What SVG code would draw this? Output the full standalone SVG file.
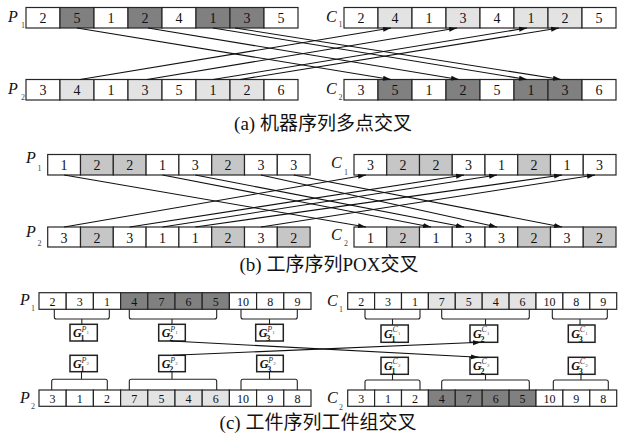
<svg xmlns="http://www.w3.org/2000/svg" width="622" height="439" viewBox="0 0 622 439">
<style>
.c{fill:#fff;stroke:#262626;stroke-width:1.2}
.d{fill:#808080}.l{fill:#e3e3e3}.m{fill:#c6c6c6}
.n{font-family:"Liberation Serif",serif;font-size:14px;text-anchor:middle;fill:#111}
.s{font-size:12px}
.lab{font-family:"Liberation Serif",serif;font-style:italic;font-size:16px;fill:#111}
.sub{font-family:"Liberation Serif",serif;font-size:8px;fill:#444}
.cap{font-family:"Liberation Serif","Noto Sans CJK SC",serif;font-size:19px;text-anchor:middle;fill:#111}
.ar{stroke:#111;stroke-width:1.1;fill:none;marker-end:url(#ah)}
.br{stroke:#222;stroke-width:1.1;fill:none}
.bx{fill:#fff;stroke:#222;stroke-width:1.5}
.gl{font-family:"Liberation Serif",serif;font-weight:bold;font-style:italic;font-size:12px;fill:#111}
.gs{font-family:"Liberation Serif",serif;font-weight:bold;font-size:8px;fill:#111}
.gp{font-family:"Liberation Serif",serif;font-style:italic;font-size:8px;fill:#333}
.gq{font-family:"Liberation Serif",serif;font-size:5px;fill:#555}
</style>
<defs>
<marker id="ah" markerWidth="8" markerHeight="6" refX="8" refY="3" orient="auto" markerUnits="userSpaceOnUse"><path d="M0,0.5 L8,3 L0,5.5 z" fill="#111"/></marker>
</defs>

<!-- (a) -->
<g id="a-P1">
<text class="lab" x="8" y="22">P</text><text class="sub" x="21" y="28">1</text>
<rect class="c" x="26" y="7.5" width="34" height="20.5"/><rect class="c d" x="60" y="7.5" width="34" height="20.5"/><rect class="c" x="94" y="7.5" width="34" height="20.5"/><rect class="c d" x="128" y="7.5" width="34" height="20.5"/><rect class="c" x="162" y="7.5" width="34" height="20.5"/><rect class="c d" x="196" y="7.5" width="34" height="20.5"/><rect class="c d" x="230" y="7.5" width="34" height="20.5"/><rect class="c" x="264" y="7.5" width="34" height="20.5"/>
<text class="n" x="43" y="23">2</text><text class="n" x="77" y="23">5</text><text class="n" x="111" y="23">1</text><text class="n" x="145" y="23">2</text><text class="n" x="179" y="23">4</text><text class="n" x="213" y="23">1</text><text class="n" x="247" y="23">3</text><text class="n" x="281" y="23">5</text>
</g>
<g id="a-P2">
<text class="lab" x="8" y="94">P</text><text class="sub" x="21" y="100">2</text>
<rect class="c" x="26" y="79.5" width="34" height="20.5"/><rect class="c l" x="60" y="79.5" width="34" height="20.5"/><rect class="c" x="94" y="79.5" width="34" height="20.5"/><rect class="c l" x="128" y="79.5" width="34" height="20.5"/><rect class="c" x="162" y="79.5" width="34" height="20.5"/><rect class="c l" x="196" y="79.5" width="34" height="20.5"/><rect class="c l" x="230" y="79.5" width="34" height="20.5"/><rect class="c" x="264" y="79.5" width="34" height="20.5"/>
<text class="n" x="43" y="95">3</text><text class="n" x="77" y="95">4</text><text class="n" x="111" y="95">1</text><text class="n" x="145" y="95">3</text><text class="n" x="179" y="95">5</text><text class="n" x="213" y="95">1</text><text class="n" x="247" y="95">2</text><text class="n" x="281" y="95">6</text>
</g>
<g id="a-C1">
<text class="lab" x="326" y="22">C</text><text class="sub" x="338.5" y="27">1</text>
<rect class="c" x="344" y="7.5" width="34" height="20.5"/><rect class="c l" x="378" y="7.5" width="34" height="20.5"/><rect class="c" x="412" y="7.5" width="34" height="20.5"/><rect class="c l" x="446" y="7.5" width="34" height="20.5"/><rect class="c" x="480" y="7.5" width="34" height="20.5"/><rect class="c l" x="514" y="7.5" width="34" height="20.5"/><rect class="c l" x="548" y="7.5" width="34" height="20.5"/><rect class="c" x="582" y="7.5" width="34" height="20.5"/>
<text class="n" x="361" y="23">2</text><text class="n" x="395" y="23">4</text><text class="n" x="429" y="23">1</text><text class="n" x="463" y="23">3</text><text class="n" x="497" y="23">4</text><text class="n" x="531" y="23">1</text><text class="n" x="565" y="23">2</text><text class="n" x="599" y="23">5</text>
</g>
<g id="a-C2">
<text class="lab" x="326" y="94">C</text><text class="sub" x="338.5" y="100">2</text>
<rect class="c" x="344" y="79.5" width="34" height="20.5"/><rect class="c d" x="378" y="79.5" width="34" height="20.5"/><rect class="c" x="412" y="79.5" width="34" height="20.5"/><rect class="c d" x="446" y="79.5" width="34" height="20.5"/><rect class="c" x="480" y="79.5" width="34" height="20.5"/><rect class="c d" x="514" y="79.5" width="34" height="20.5"/><rect class="c d" x="548" y="79.5" width="34" height="20.5"/><rect class="c" x="582" y="79.5" width="34" height="20.5"/>
<text class="n" x="361" y="95">3</text><text class="n" x="395" y="95">5</text><text class="n" x="429" y="95">1</text><text class="n" x="463" y="95">2</text><text class="n" x="497" y="95">5</text><text class="n" x="531" y="95">1</text><text class="n" x="565" y="95">3</text><text class="n" x="599" y="95">6</text>
</g>
<g id="a-links">
<line class="ar" x1="77" y1="28" x2="391" y2="79.5"/><line class="ar" x1="148" y1="28" x2="459" y2="79.5"/><line class="ar" x1="213" y1="28" x2="527" y2="79.5"/><line class="ar" x1="235" y1="28" x2="561" y2="79.5"/>
<line class="ar" x1="80" y1="79.5" x2="391" y2="28"/><line class="ar" x1="147" y1="79.5" x2="457" y2="28"/><line class="ar" x1="213" y1="79.5" x2="527" y2="28"/><line class="ar" x1="240" y1="79.5" x2="559" y2="28"/>
</g>
<text class="cap" x="323" y="130">(a) 机器序列多点交叉</text>

<!-- (b) -->
<g id="b-P1">
<text class="lab" x="26" y="163">P</text><text class="sub" x="37.5" y="171">1</text>
<rect class="c" x="47.7" y="154.5" width="32.8" height="20.5"/><rect class="c m" x="80.5" y="154.5" width="32.8" height="20.5"/><rect class="c m" x="113.3" y="154.5" width="32.8" height="20.5"/><rect class="c" x="146.1" y="154.5" width="32.8" height="20.5"/><rect class="c" x="178.9" y="154.5" width="32.8" height="20.5"/><rect class="c m" x="211.7" y="154.5" width="32.8" height="20.5"/><rect class="c" x="244.5" y="154.5" width="32.8" height="20.5"/><rect class="c" x="277.3" y="154.5" width="32.8" height="20.5"/>
<text class="n" x="64.1" y="170">1</text><text class="n" x="96.9" y="170">2</text><text class="n" x="129.7" y="170">2</text><text class="n" x="162.5" y="170">1</text><text class="n" x="195.3" y="170">3</text><text class="n" x="228.1" y="170">2</text><text class="n" x="260.9" y="170">3</text><text class="n" x="293.7" y="170">3</text>
</g>
<g id="b-P2">
<text class="lab" x="26" y="237">P</text><text class="sub" x="37.5" y="246">2</text>
<rect class="c" x="47.7" y="227" width="32.8" height="20"/><rect class="c m" x="80.5" y="227" width="32.8" height="20"/><rect class="c" x="113.3" y="227" width="32.8" height="20"/><rect class="c" x="146.1" y="227" width="32.8" height="20"/><rect class="c" x="178.9" y="227" width="32.8" height="20"/><rect class="c m" x="211.7" y="227" width="32.8" height="20"/><rect class="c" x="244.5" y="227" width="32.8" height="20"/><rect class="c m" x="277.3" y="227" width="32.8" height="20"/>
<text class="n" x="64.1" y="242.5">3</text><text class="n" x="96.9" y="242.5">2</text><text class="n" x="129.7" y="242.5">3</text><text class="n" x="162.5" y="242.5">1</text><text class="n" x="195.3" y="242.5">1</text><text class="n" x="228.1" y="242.5">2</text><text class="n" x="260.9" y="242.5">3</text><text class="n" x="293.7" y="242.5">2</text>
</g>
<g id="b-C1">
<text class="lab" x="331" y="168">C</text><text class="sub" x="344" y="175">1</text>
<rect class="c" x="354" y="154.5" width="32.75" height="20.5"/><rect class="c m" x="386.75" y="154.5" width="32.75" height="20.5"/><rect class="c m" x="419.5" y="154.5" width="32.75" height="20.5"/><rect class="c" x="452.25" y="154.5" width="32.75" height="20.5"/><rect class="c" x="485" y="154.5" width="32.75" height="20.5"/><rect class="c m" x="517.75" y="154.5" width="32.75" height="20.5"/><rect class="c" x="550.5" y="154.5" width="32.75" height="20.5"/><rect class="c" x="583.25" y="154.5" width="32.75" height="20.5"/>
<text class="n" x="370.4" y="170">3</text><text class="n" x="403.1" y="170">2</text><text class="n" x="435.9" y="170">2</text><text class="n" x="468.6" y="170">3</text><text class="n" x="501.4" y="170">1</text><text class="n" x="534.1" y="170">2</text><text class="n" x="566.9" y="170">1</text><text class="n" x="599.6" y="170">3</text>
</g>
<g id="b-C2">
<text class="lab" x="331" y="240">C</text><text class="sub" x="344" y="246">2</text>
<rect class="c" x="354" y="227" width="32.75" height="20"/><rect class="c m" x="386.75" y="227" width="32.75" height="20"/><rect class="c" x="419.5" y="227" width="32.75" height="20"/><rect class="c" x="452.25" y="227" width="32.75" height="20"/><rect class="c" x="485" y="227" width="32.75" height="20"/><rect class="c m" x="517.75" y="227" width="32.75" height="20"/><rect class="c" x="550.5" y="227" width="32.75" height="20"/><rect class="c m" x="583.25" y="227" width="32.75" height="20"/>
<text class="n" x="370.4" y="242.5">1</text><text class="n" x="403.1" y="242.5">2</text><text class="n" x="435.9" y="242.5">1</text><text class="n" x="468.6" y="242.5">3</text><text class="n" x="501.4" y="242.5">3</text><text class="n" x="534.1" y="242.5">2</text><text class="n" x="566.9" y="242.5">3</text><text class="n" x="599.6" y="242.5">2</text>
</g>
<g id="b-links">
<line class="ar" x1="64.1" y1="175" x2="366" y2="227"/><line class="ar" x1="162.5" y1="175" x2="431" y2="227"/><line class="ar" x1="195.3" y1="175" x2="464" y2="227"/><line class="ar" x1="260.9" y1="175" x2="497" y2="227"/><line class="ar" x1="293.7" y1="175" x2="562" y2="227"/>
<line class="ar" x1="64.1" y1="227" x2="366" y2="175"/><line class="ar" x1="129.7" y1="227" x2="464" y2="175"/><line class="ar" x1="162.5" y1="227" x2="497" y2="175"/><line class="ar" x1="195.3" y1="227" x2="562" y2="175"/><line class="ar" x1="260.9" y1="227" x2="595" y2="175"/>
</g>
<text class="cap" x="329" y="271">(b) 工序序列POX交叉</text>

<!-- (c) -->
<g id="c-P1">
<text class="lab" x="20" y="305">P</text><text class="sub" x="31" y="311">1</text>
<rect class="c" x="39" y="292.7" width="27.2" height="16.6"/><rect class="c" x="66.2" y="292.7" width="27.2" height="16.6"/><rect class="c" x="93.4" y="292.7" width="27.2" height="16.6"/><rect class="c d" x="120.6" y="292.7" width="27.2" height="16.6"/><rect class="c d" x="147.8" y="292.7" width="27.2" height="16.6"/><rect class="c d" x="175" y="292.7" width="27.2" height="16.6"/><rect class="c d" x="202.2" y="292.7" width="27.2" height="16.6"/><rect class="c" x="229.4" y="292.7" width="27.2" height="16.6"/><rect class="c" x="256.6" y="292.7" width="27.2" height="16.6"/><rect class="c" x="283.8" y="292.7" width="27.2" height="16.6"/>
<text class="n s" x="52.6" y="305.5">2</text><text class="n s" x="79.8" y="305.5">3</text><text class="n s" x="107" y="305.5">1</text><text class="n s" x="134.2" y="305.5">4</text><text class="n s" x="161.4" y="305.5">7</text><text class="n s" x="188.6" y="305.5">6</text><text class="n s" x="215.8" y="305.5">5</text><text class="n s" x="243" y="305.5">10</text><text class="n s" x="270.2" y="305.5">8</text><text class="n s" x="297.4" y="305.5">9</text>
<path class="br" d="M54.3,309.3 V317 q0,2 2,2 H107.3 q2,0 2,-2 V309.3 M81.8,319 V324.3"/>
<path class="br" d="M129.3,309.3 V317 q0,2 2,2 H214.7 q2,0 2,-2 V309.3 M172,319 V324.3"/>
<path class="br" d="M241,309.3 V317 q0,2 2,2 H295.3 q2,0 2,-2 V309.3 M269.5,319 V324.3"/>
</g>
<g id="c-GP1-1"><rect class="bx" x="70" y="324.3" width="27.3" height="16.7"/><text class="gl" x="73" y="337">G</text><text class="gs" x="80.5" y="340.5">1</text><text class="gp" x="81.5" y="331.5">P</text><text class="gq" x="86.5" y="334">1</text></g>
<g id="c-GP1-2"><rect class="bx d" x="158.7" y="324.3" width="26.6" height="16.7"/><text class="gl" x="161.7" y="337">G</text><text class="gs" x="169.2" y="340.5">2</text><text class="gp" x="170.2" y="331.5">P</text><text class="gq" x="175.2" y="334">1</text></g>
<g id="c-GP1-3"><rect class="bx" x="255.7" y="324.3" width="27.6" height="16.7"/><text class="gl" x="258.7" y="337">G</text><text class="gs" x="266.2" y="340.5">3</text><text class="gp" x="267.2" y="331.5">P</text><text class="gq" x="272.2" y="334">1</text></g>

<g id="c-P2">
<text class="lab" x="20" y="403">P</text><text class="sub" x="31" y="409">2</text>
<rect class="c" x="39" y="390" width="27.2" height="16.3"/><rect class="c" x="66.2" y="390" width="27.2" height="16.3"/><rect class="c" x="93.4" y="390" width="27.2" height="16.3"/><rect class="c l" x="120.6" y="390" width="27.2" height="16.3"/><rect class="c l" x="147.8" y="390" width="27.2" height="16.3"/><rect class="c l" x="175" y="390" width="27.2" height="16.3"/><rect class="c l" x="202.2" y="390" width="27.2" height="16.3"/><rect class="c" x="229.4" y="390" width="27.2" height="16.3"/><rect class="c" x="256.6" y="390" width="27.2" height="16.3"/><rect class="c" x="283.8" y="390" width="27.2" height="16.3"/>
<text class="n s" x="52.6" y="402.5">3</text><text class="n s" x="79.8" y="402.5">1</text><text class="n s" x="107" y="402.5">2</text><text class="n s" x="134.2" y="402.5">7</text><text class="n s" x="161.4" y="402.5">5</text><text class="n s" x="188.6" y="402.5">4</text><text class="n s" x="215.8" y="402.5">6</text><text class="n s" x="243" y="402.5">10</text><text class="n s" x="270.2" y="402.5">9</text><text class="n s" x="297.4" y="402.5">8</text>
<path class="br" d="M51.7,390 V381.3 q0,-2 2,-2 H105.3 q2,0 2,2 V390 M81.5,379.3 V371.7"/>
<path class="br" d="M129.3,390 V381.3 q0,-2 2,-2 H214.7 q2,0 2,2 V390 M172,379.3 V371.7"/>
<path class="br" d="M241,390 V381.3 q0,-2 2,-2 H295.3 q2,0 2,2 V390 M269.5,379.3 V371.7"/>
</g>
<g id="c-GP2-1"><rect class="bx" x="70" y="355.3" width="27.3" height="16.4"/><text class="gl" x="73" y="368">G</text><text class="gs" x="80.5" y="371.5">1</text><text class="gp" x="81.5" y="362.5">P</text><text class="gq" x="86.5" y="365">2</text></g>
<g id="c-GP2-2"><rect class="bx l" x="158.7" y="355.3" width="26.6" height="16.4"/><text class="gl" x="161.7" y="368">G</text><text class="gs" x="169.2" y="371.5">2</text><text class="gp" x="170.2" y="362.5">P</text><text class="gq" x="175.2" y="365">2</text></g>
<g id="c-GP2-3"><rect class="bx" x="256.7" y="355.3" width="26.6" height="16.4"/><text class="gl" x="259.7" y="368">G</text><text class="gs" x="267.2" y="371.5">3</text><text class="gp" x="268.2" y="362.5">P</text><text class="gq" x="273.2" y="365">2</text></g>

<g id="c-C1">
<text class="lab" x="327" y="306">C</text><text class="sub" x="339" y="312">1</text>
<rect class="c" x="347.7" y="292.7" width="26.9" height="16.6"/><rect class="c" x="374.6" y="292.7" width="26.9" height="16.6"/><rect class="c" x="401.5" y="292.7" width="26.9" height="16.6"/><rect class="c l" x="428.4" y="292.7" width="26.9" height="16.6"/><rect class="c l" x="455.3" y="292.7" width="26.9" height="16.6"/><rect class="c l" x="482.2" y="292.7" width="26.9" height="16.6"/><rect class="c l" x="509.1" y="292.7" width="26.9" height="16.6"/><rect class="c" x="536" y="292.7" width="26.9" height="16.6"/><rect class="c" x="562.9" y="292.7" width="26.9" height="16.6"/><rect class="c" x="589.8" y="292.7" width="26.9" height="16.6"/>
<text class="n s" x="361.15" y="305.5">2</text><text class="n s" x="388.05" y="305.5">3</text><text class="n s" x="414.95" y="305.5">1</text><text class="n s" x="441.85" y="305.5">7</text><text class="n s" x="468.75" y="305.5">5</text><text class="n s" x="495.65" y="305.5">4</text><text class="n s" x="522.55" y="305.5">6</text><text class="n s" x="549.45" y="305.5">10</text><text class="n s" x="576.35" y="305.5">8</text><text class="n s" x="603.25" y="305.5">9</text>
<path class="br" d="M365,309.3 V317 q0,2 2,2 H418 q2,0 2,-2 V309.3 M392.5,319 V325"/>
<path class="br" d="M441.7,309.3 V317 q0,2 2,2 H527.3 q2,0 2,-2 V309.3 M485.5,319 V325"/>
<path class="br" d="M552.3,309.3 V317 q0,2 2,2 H605.3 q2,0 2,-2 V309.3 M580,319 V325"/>
</g>
<g id="c-GC1-1"><rect class="bx" x="381" y="325" width="27.3" height="17.3"/><text class="gl" x="384" y="338">G</text><text class="gs" x="391.5" y="341.5">1</text><text class="gp" x="392.5" y="332">C</text><text class="gq" x="398" y="334.5">1</text></g>
<g id="c-GC1-2"><rect class="bx l" x="470" y="325" width="27.7" height="17.3"/><text class="gl" x="473" y="338">G</text><text class="gs" x="480.5" y="341.5">2</text><text class="gp" x="481.5" y="332">C</text><text class="gq" x="487" y="334.5">1</text></g>
<g id="c-GC1-3"><rect class="bx" x="568.3" y="325" width="26.7" height="17.3"/><text class="gl" x="571.3" y="338">G</text><text class="gs" x="578.8" y="341.5">3</text><text class="gp" x="579.8" y="332">C</text><text class="gq" x="585.3" y="334.5">1</text></g>

<g id="c-C2">
<text class="lab" x="327" y="403">C</text><text class="sub" x="339" y="410">2</text>
<rect class="c" x="347.7" y="390" width="26.9" height="16.3"/><rect class="c" x="374.6" y="390" width="26.9" height="16.3"/><rect class="c" x="401.5" y="390" width="26.9" height="16.3"/><rect class="c d" x="428.4" y="390" width="26.9" height="16.3"/><rect class="c d" x="455.3" y="390" width="26.9" height="16.3"/><rect class="c d" x="482.2" y="390" width="26.9" height="16.3"/><rect class="c d" x="509.1" y="390" width="26.9" height="16.3"/><rect class="c" x="536" y="390" width="26.9" height="16.3"/><rect class="c" x="562.9" y="390" width="26.9" height="16.3"/><rect class="c" x="589.8" y="390" width="26.9" height="16.3"/>
<text class="n s" x="361.15" y="402.5">3</text><text class="n s" x="388.05" y="402.5">1</text><text class="n s" x="414.95" y="402.5">2</text><text class="n s" x="441.85" y="402.5">4</text><text class="n s" x="468.75" y="402.5">7</text><text class="n s" x="495.65" y="402.5">6</text><text class="n s" x="522.55" y="402.5">5</text><text class="n s" x="549.45" y="402.5">10</text><text class="n s" x="576.35" y="402.5">9</text><text class="n s" x="603.25" y="402.5">8</text>
<path class="br" d="M365,390 V382 q0,-2 2,-2 H418 q2,0 2,2 V390 M392.5,380 V374.3"/>
<path class="br" d="M441.7,390 V382 q0,-2 2,-2 H527.3 q2,0 2,2 V390 M485.5,380 V374.3"/>
<path class="br" d="M553.3,390 V382 q0,-2 2,-2 H606.3 q2,0 2,2 V390 M581,380 V374.3"/>
</g>
<g id="c-GC2-1"><rect class="bx" x="381" y="357.3" width="27.3" height="17"/><text class="gl" x="384" y="370">G</text><text class="gs" x="391.5" y="373.5">1</text><text class="gp" x="392.5" y="364">C</text><text class="gq" x="398" y="366.5">2</text></g>
<g id="c-GC2-2"><rect class="bx d" x="470" y="357.3" width="27.7" height="17"/><text class="gl" x="473" y="370">G</text><text class="gs" x="480.5" y="373.5">2</text><text class="gp" x="481.5" y="364">C</text><text class="gq" x="487" y="366.5">2</text></g>
<g id="c-GC2-3"><rect class="bx" x="568.3" y="357.3" width="26.7" height="17"/><text class="gl" x="571.3" y="370">G</text><text class="gs" x="578.8" y="373.5">3</text><text class="gp" x="579.8" y="364">C</text><text class="gq" x="585.3" y="366.5">2</text></g>

<g id="c-links">
<line class="ar" x1="171" y1="341" x2="479" y2="357.3"/>
<line class="ar" x1="173" y1="355.3" x2="481" y2="342.3"/>
</g>
<text class="cap" x="318" y="429">(c) 工件序列工件组交叉</text>
</svg>
